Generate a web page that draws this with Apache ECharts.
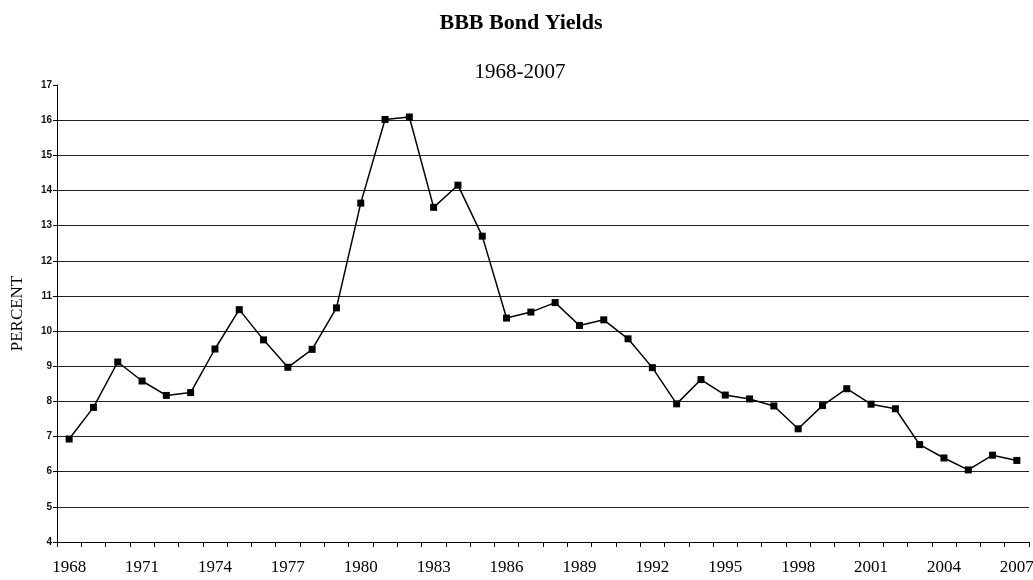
<!DOCTYPE html>
<html>
<head>
<meta charset="utf-8">
<title>BBB Bond Yields</title>
<script src="https://cdn.jsdelivr.net/npm/echarts@6/dist/echarts.min.js"></script>
<style>
  html, body { margin: 0; padding: 0; background: #fff; }
  #chart { width: 1033px; height: 580px; }
</style>
</head>
<body>
<div id="chart"></div>
<script>
// 年份 (categories)
const years = [
  '1968', '1969', '1970', '1971', '1972', '1973', '1974', '1975', '1976', '1977',
  '1978', '1979', '1980', '1981', '1982', '1983', '1984', '1985', '1986', '1987',
  '1988', '1989', '1990', '1991', '1992', '1993', '1994', '1995', '1996', '1997',
  '1998', '1999', '2000', '2001', '2002', '2003', '2004', '2005', '2006', '2007'
]

// BBB yields, percent
const yields = [
  6.93, 7.83, 9.12, 8.58, 8.17, 8.25, 9.49, 10.61, 9.75, 8.97,
  9.48, 10.66, 13.64, 16.02, 16.09, 13.52, 14.15, 12.70, 10.37, 10.54,
  10.81, 10.16, 10.32, 9.78, 8.96, 7.93, 8.62, 8.18, 8.07, 7.87,
  7.22, 7.88, 8.36, 7.92, 7.79, 6.77, 6.39, 6.05, 6.47, 6.32
]

// y axis range
const yMin = 4
const yMax = 17
const yStep = 1

const serif = '"Liberation Serif", "Times New Roman", serif'
const sans = '"Liberation Sans", Arial, sans-serif'

const myChart = echarts.init(document.getElementById('chart'))

const option = {
  backgroundColor: '#fff',
  animation: false,
  title: [
    {
      text: 'BBB Bond Yields',
      left: 516,
      top: 7,
      textAlign: 'center',
      textStyle: { fontFamily: serif, fontSize: 22, fontWeight: 'bold', color: '#000' }
    },
    {
      text: '1968-2007',
      left: 515,
      top: 57,
      textAlign: 'center',
      textStyle: { fontFamily: serif, fontSize: 21, fontWeight: 'normal', color: '#000' }
    }
  ],
  grid: {
    left: 57,
    right: 4,
    top: 85,
    bottom: 38,
    containLabel: false,
    outerBoundsMode: 'none'
  },
  xAxis: {
    type: 'category',
    data: years,
    boundaryGap: true,
    axisLine: { show: true, lineStyle: { color: '#000', width: 1 } },
    axisTick: { show: true, interval: 0, length: 5, lineStyle: { color: '#000' } },
    axisLabel: {
      interval: 2,
      margin: 17,
      fontFamily: serif,
      fontSize: 17,
      color: '#000'
    },
    splitLine: { show: false }
  },
  yAxis: {
    type: 'value',
    min: yMin,
    max: yMax,
    interval: yStep,
    name: 'PERCENT',
    nameLocation: 'middle',
    nameRotate: 90,
    nameGap: 31,
    nameTextStyle: { fontFamily: serif, fontSize: 17, color: '#000' },
    axisLine: { show: true, lineStyle: { color: '#000', width: 1 } },
    axisTick: { show: true, length: 4, lineStyle: { color: '#000' } },
    axisLabel: {
      margin: 5,
      fontFamily: sans,
      fontSize: 10,
      fontWeight: 'bold',
      color: '#111'
    },
    splitLine: {
      show: true,
      showMaxLine: false,
      lineStyle: { color: '#222', width: 1 }
    }
  },
  series: [
    {
      name: 'BBB',
      type: 'line',
      data: yields,
      symbol: 'rect',
      symbolSize: 7,
      itemStyle: { color: '#000' },
      lineStyle: { color: '#000', width: 1.5 }
    }
  ]
}

myChart.setOption(option)
</script>
</body>
</html>
